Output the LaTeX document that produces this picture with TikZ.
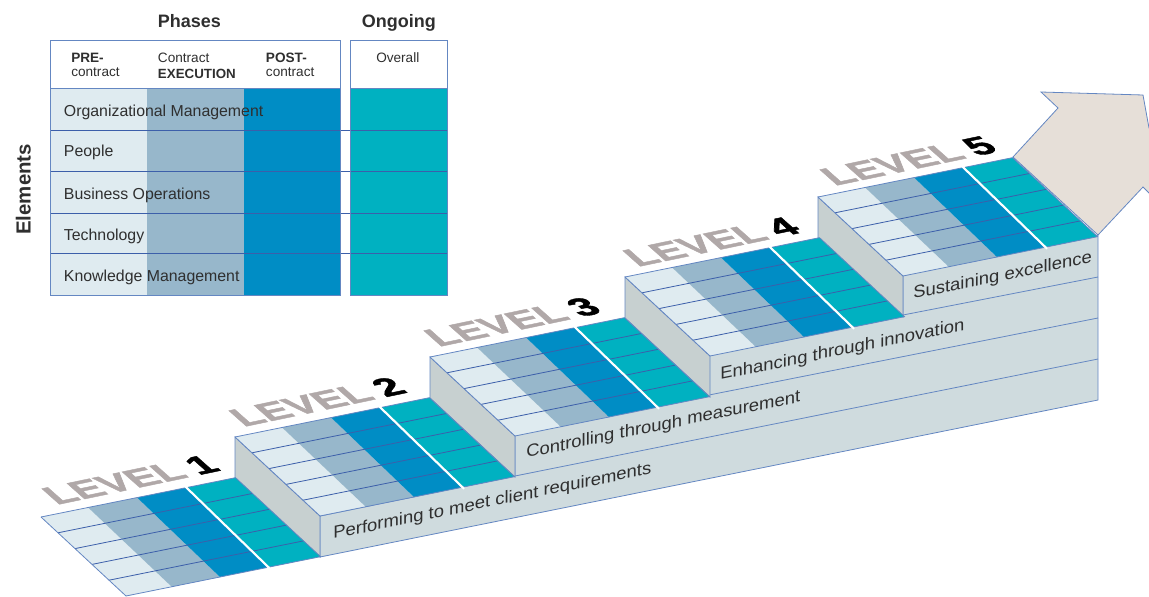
\documentclass[tikz,border=0pt]{standalone}
\usepackage{fontspec}
\setmainfont{Liberation Sans}
\definecolor{preblue}{HTML}{DFEBF0}
\definecolor{execblue}{HTML}{97B7CB}
\definecolor{postblue}{HTML}{008DC5}
\definecolor{ongoteal}{HTML}{00B1C1}
\definecolor{edgeblue}{HTML}{6487C2}
\definecolor{rowblue}{HTML}{3C5FAA}
\definecolor{frontgrey}{HTML}{CFDBDE}
\definecolor{sidegrey}{HTML}{C7D0D0}
\definecolor{arrowsand}{HTML}{E6DFD8}
\definecolor{levelgrey}{HTML}{B0A8A8}
\definecolor{inkgrey}{HTML}{2F2F2F}
\tikzset{
  edgeline/.style={draw=edgeblue, line width=0.6pt},
  rowline/.style={draw=rowblue, line width=0.6pt},
  headbig/.style={anchor=base west, inner sep=0pt, text=inkgrey, font=\bfseries\fontsize{13.5}{16}\selectfont},
  headsmall/.style={anchor=base west, inner sep=0pt, text=inkgrey, font=\fontsize{10.2}{12}\selectfont},
  rowlabel/.style={anchor=base west, inner sep=0pt, text=inkgrey, font=\fontsize{11.9}{14}\selectfont},
  levellabel/.style={anchor=base west, inner sep=0pt, text=levelgrey, font=\bfseries\fontsize{12}{14}\selectfont\addfontfeature{FakeBold=1.5}, cm={2.58,0.54,-1.6,1.42,(0,0)}},
  bandlabel/.style={anchor=base west, inner sep=0pt, text=inkgrey, font=\fontsize{13}{15}\selectfont, cm={1.065,0.218,0,1,(0,0)}},
}

\begin{document}
\begin{tikzpicture}[x=0.75pt,y=-0.75pt]
    \useasboundingbox (0,0) rectangle (1149,596);
    \clip (0,0) rectangle (1149,596);

    % table
    \fill[preblue] (50.5,88.7) rectangle (147,295);
    \fill[execblue] (147,88.7) rectangle (244,295);
    \fill[postblue] (244,88.7) rectangle (340,295);
    \fill[ongoteal] (350,88.7) rectangle (447,295);
    \foreach \rowy in {130.7,171.3,213.3,253.7}
        \draw[rowline] (50.5,\rowy) -- (447,\rowy);
    \draw[edgeline] (50.5,40) rectangle (340,295);
    \draw[edgeline] (350,40) rectangle (447,295);
    \draw[edgeline] (50.5,88.7) -- (340,88.7);
    \draw[edgeline] (350,88.7) -- (447,88.7);

    \node[headbig] (phases) at (157.7,27.5) {Phases};
    \node[headbig] (ongoing) at (361.7,27.5) {Ongoing};
    \node[headbig, rotate=90, font=\bfseries\fontsize{15.3}{17}\selectfont] (elements) at (30.7,235) {Elements};
    \node[headsmall, font=\bfseries\fontsize{10.2}{12}\selectfont] (pre) at (71,62) {PRE-};
    \node[headsmall] (precontract) at (71,76) {contract};
    \node[headsmall] (contract) at (157.7,62) {Contract};
    \node[headsmall, font=\bfseries\fontsize{10}{12}\selectfont] (execution) at (157.7,78) {EXECUTION};
    \node[headsmall, font=\bfseries\fontsize{10.2}{12}\selectfont] (post) at (265.7,62) {POST-};
    \node[headsmall] (postcontract) at (265.7,76) {contract};
    \node[headsmall] (overall) at (376,62) {Overall};

    \node[rowlabel] (orgman) at (63.7,116.7) {Organizational Management};
    \node[rowlabel] (people) at (63.7,156.7) {People};
    \node[rowlabel] (busops) at (63.7,199) {Business Operations};
    \node[rowlabel] (tech) at (63.7,240) {Technology};
    \node[rowlabel] (knowman) at (63.7,281.7) {Knowledge Management};

    % arrow
    \filldraw[fill=arrowsand, draw=edgeblue, line width=0.6pt] (1013,157) -- (1058,108) -- (1041,92) -- (1143,95)
        -- (1149,128) -- (1160,128) -- (1160,204) -- (1143,187) -- (1098,235) -- cycle;

    % front faces
    \filldraw[fill=frontgrey, draw=edgeblue, line width=0.6pt] (320,516) -- (320,557) -- (1098,400) -- (1098,235)
        -- (903,274) -- (903,315) -- (709,354) -- (709,395) -- (515,434) -- (515,476) -- cycle;
    \draw[edgeline] (515,476) -- (1098,359);
    \draw[edgeline] (709,395) -- (1098,318);
    \draw[edgeline] (903,315) -- (1098,277);

    % steps
    \foreach \ox/\oy in {235/437,430/357,625/277,818/197}
        \filldraw[fill=sidegrey, draw=edgeblue, line width=0.6pt] (\ox,\oy) -- ({\ox+85},{\oy+79}) -- ({\ox+85},{\oy+120}) -- (\ox,{\oy+41}) -- cycle;

    \foreach \ox/\oy in {41/517,235/437,430/357,625/277,818/197}{
        \begin{scope}[shift={(\ox,\oy)}, x={(145.9pt,29.5pt)}, y={(63.75pt,-59.25pt)}]
            \fill[preblue] (0,0) -- (.242,0) -- (.235,1) -- (0,1) -- cycle;
            \fill[execblue] (.242,0) -- (.494,0) -- (.483,1) -- (.235,1) -- cycle;
            \fill[postblue] (.494,0) -- (.748,0) -- (.732,1) -- (.483,1) -- cycle;
            \fill[ongoteal] (.748,0) -- (1,0) -- (1,1) -- (.732,1) -- cycle;
            \foreach \rowf in {.2,.4,.6,.8}
                \draw[rowline] (0,\rowf) -- (1,\rowf);
            \draw[white, line width=1.6pt] (.748,-.02) -- (.732,1.02);
            \draw[edgeline] (0,0) -- (.74,0);
            \draw[edgeline] (.756,0) -- (1,0);
            \draw[edgeline] (0,0) -- (0,1) -- (.724,1);
            \draw[edgeline] (.74,1) -- (1,1) -- (1,0);
        \end{scope}
    }

    \node[levellabel] (level1) at (56,505) {LEVEL\hspace{0.22em}\textcolor{black}{1}};
    \node[levellabel] (level2) at (243,427) {LEVEL\hspace{0.22em}\textcolor{black}{2}};
    \node[levellabel] (level3) at (438,347) {LEVEL\hspace{0.22em}\textcolor{black}{3}};
    \node[levellabel] (level4) at (637,267) {LEVEL\hspace{0.22em}\textcolor{black}{4}};
    \node[levellabel] (level5) at (834,186) {LEVEL\hspace{0.22em}\textcolor{black}{5}};

    \node[bandlabel] (band1) at (333,539) {Performing to meet client requirements};
    \node[bandlabel] (band2) at (526,458) {Controlling through measurement};
    \node[bandlabel] (band3) at (720,380) {Enhancing through innovation};
    \node[bandlabel] (band4) at (913,299) {Sustaining excellence};
\end{tikzpicture}
\end{document}
